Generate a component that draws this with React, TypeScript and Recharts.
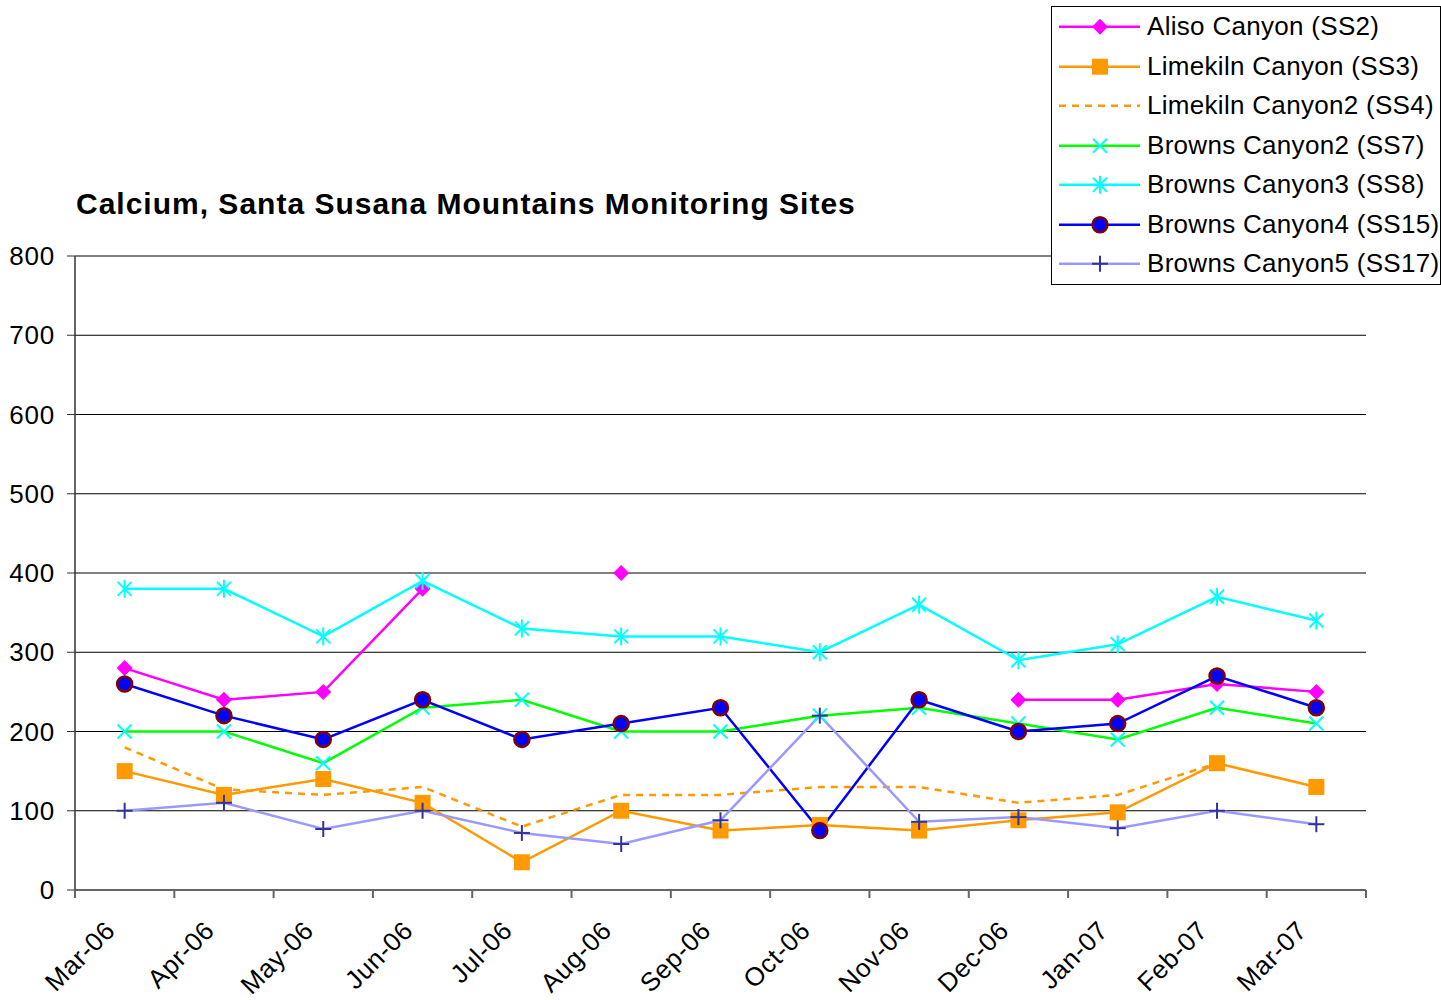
import React from 'react'
import { LineChart, Line, XAxis, YAxis, CartesianGrid, Legend } from 'recharts'

const months = ['Mar-06', 'Apr-06', 'May-06', 'Jun-06', 'Jul-06', 'Aug-06', 'Sep-06', 'Oct-06', 'Nov-06', 'Dec-06', 'Jan-07', 'Feb-07', 'Mar-07']

const aliso = [280, 240, 250, 380, null, 400, null, null, null, 240, 240, 260, 250]
const limekiln = [150, 120, 140, 110, 35, 100, 75, 82, 75, 88, 98, 160, 130]
const limekiln2 = [180, 127, 120, 130, 80, 120, 120, 130, 130, 110, 120, 160, null]
const browns2 = [200, 200, 160, 230, 240, 200, 200, 220, 230, 210, 190, 230, 210]
const browns3 = [380, 380, 320, 390, 330, 320, 320, 300, 360, 290, 310, 370, 340]
const browns4 = [260, 220, 190, 240, 190, 210, 230, 75, 240, 200, 210, 270, 230]
const browns5 = [100, 110, 77, 100, 72, 58, 88, 220, 86, 92, 78, 100, 83]

const yTicks = [0, 100, 200, 300, 400, 500, 600, 700, 800]

const data = months.map((month, i) => ({
  month,
  ss2: aliso[i],
  ss3: limekiln[i],
  ss4: limekiln2[i],
  ss7: browns2[i],
  ss8: browns3[i],
  ss15: browns4[i],
  ss17: browns5[i],
}))

const series = [
  { key: 'ss2', name: 'Aliso Canyon (SS2)', color: '#FF00FF', marker: 'diamond' },
  { key: 'ss3', name: 'Limekiln Canyon (SS3)', color: '#FF9900', marker: 'square' },
  { key: 'ss4', name: 'Limekiln Canyon2 (SS4)', color: '#FF9900', marker: 'none', dash: '7 6' },
  { key: 'ss7', name: 'Browns Canyon2 (SS7)', color: '#00FF00', marker: 'x' },
  { key: 'ss8', name: 'Browns Canyon3 (SS8)', color: '#00FFFF', marker: 'star' },
  { key: 'ss15', name: 'Browns Canyon4 (SS15)', color: '#0000FF', marker: 'circle' },
  { key: 'ss17', name: 'Browns Canyon5 (SS17)', color: '#9999FF', marker: 'plus' },
]

const FONT = '"Liberation Sans", Arial, sans-serif'
const W = 1441
const H = 1000
const M = { top: 256, right: 75, bottom: 0, left: 0 }
const Y_W = 75
const X_H = 110
const band = (W - M.right - Y_W) / months.length

function marker(type: string, cx: number, cy: number, k?: string) {
  switch (type) {
    case 'diamond':
      return <polygon key={k} points={`${cx},${cy - 8} ${cx + 8},${cy} ${cx},${cy + 8} ${cx - 8},${cy}`} fill="#FF00FF" />
    case 'square':
      return <rect key={k} x={cx - 8} y={cy - 8} width={16} height={16} fill="#FF9900" />
    case 'x':
      return (
        <g key={k} stroke="#00FFFF" strokeWidth={2}>
          <line x1={cx - 7} y1={cy - 7} x2={cx + 7} y2={cy + 7} />
          <line x1={cx - 7} y1={cy + 7} x2={cx + 7} y2={cy - 7} />
        </g>
      )
    case 'star':
      return (
        <g key={k} stroke="#00FFFF" strokeWidth={2}>
          <line x1={cx - 7} y1={cy - 7} x2={cx + 7} y2={cy + 7} />
          <line x1={cx - 7} y1={cy + 7} x2={cx + 7} y2={cy - 7} />
          <line x1={cx} y1={cy - 9} x2={cx} y2={cy + 9} />
        </g>
      )
    case 'circle':
      return <circle key={k} cx={cx} cy={cy} r={7.5} fill="#0000FF" stroke="#800000" strokeWidth={2.5} />
    case 'plus':
      return (
        <g key={k} stroke="#333399" strokeWidth={2}>
          <line x1={cx - 8} y1={cy} x2={cx + 8} y2={cy} />
          <line x1={cx} y1={cy - 8} x2={cx} y2={cy + 8} />
        </g>
      )
    default:
      return <g key={k} />
  }
}

const makeDot = (type: string, id: string) => (props: any) => {
  const { cx, cy, index } = props
  const k = `${id}-${index}`
  if (cx == null || cy == null || props.value == null) return <g key={k} />
  return marker(type, cx, cy, k)
}

function MonthTick(props: any) {
  const { x, y, payload, index } = props
  const left = x - band / 2
  const tx = x - 8
  const ty = y + 42
  return (
    <g>
      <line x1={left} y1={y} x2={left} y2={y + 8} stroke="#666" strokeWidth={2} />
      {index === months.length - 1 && (
        <line x1={x + band / 2} y1={y} x2={x + band / 2} y2={y + 8} stroke="#666" strokeWidth={2} />
      )}
      <text
        x={tx}
        y={ty}
        textAnchor="end"
        transform={`rotate(-45, ${tx}, ${ty})`}
        fontSize={26}
        letterSpacing={0.6}
        fontFamily={FONT}
        fill="#000"
      >
        {payload.value}
      </text>
    </g>
  )
}

function LegendBox() {
  return (
    <div style={{ border: '1px solid #000', background: '#fff', width: 388, fontFamily: FONT }}>
      {series.map((s) => (
        <div key={s.key} style={{ display: 'flex', alignItems: 'center', height: 39.5 }}>
          <svg width={95} height={39.5} style={{ flex: 'none' }}>
            <line x1={7} y1={19.75} x2={88} y2={19.75} stroke={s.color} strokeWidth={2.5} strokeDasharray={s.dash} />
            {marker(s.marker, 48, 19.75)}
          </svg>
          <span style={{ fontSize: 26, letterSpacing: 0.3, color: '#000', whiteSpace: 'nowrap' }}>{s.name}</span>
        </div>
      ))}
    </div>
  )
}

export default function App() {
  return (
    <div style={{ position: 'absolute', left: 0, top: 0, width: W, height: H, background: '#fff' }}>
      <div
        style={{
          position: 'absolute',
          left: 76,
          top: 189,
          fontFamily: FONT,
          fontSize: 30,
          letterSpacing: 1,
          lineHeight: '30px',
          fontWeight: 'bold',
          color: '#000',
          whiteSpace: 'nowrap',
          zIndex: 1,
        }}
      >
        Calcium, Santa Susana Mountains Monitoring Sites
      </div>
      <LineChart width={W} height={H} data={data} margin={M}>
        <CartesianGrid horizontal vertical={false} stroke="#000" strokeWidth={1} />
        <XAxis
          dataKey="month"
          scale="band"
          interval={0}
          height={X_H}
          tickSize={0}
          tickMargin={0}
          tick={<MonthTick />}
          axisLine={{ stroke: '#666', strokeWidth: 2 }}
        />
        <XAxis xAxisId="top" dataKey="month" orientation="top" scale="band" height={0} tick={false} tickLine={false} axisLine={{ stroke: '#888', strokeWidth: 2 }} />
        <YAxis
          domain={[0, 800]}
          ticks={yTicks}
          width={Y_W}
          tickSize={8}
          tickMargin={12}
          tick={{ fontSize: 26, fontFamily: FONT, fill: '#000', letterSpacing: 0.8 }}
          tickLine={{ stroke: '#333' }}
          axisLine={{ stroke: '#333', strokeWidth: 1.5 }}
        />
        <YAxis yAxisId="right" orientation="right" width={0} domain={[0, 800]} tick={false} tickLine={false} axisLine={{ stroke: '#888', strokeWidth: 2 }} />
        <Legend
          layout="vertical"
          align="center"
          verticalAlign="middle"
          content={<LegendBox />}
          wrapperStyle={{ left: 1051, top: 6, width: 390, height: 280 }}
        />
        {series.map((s) => (
          <Line
            key={s.key}
            dataKey={s.key}
            name={s.name}
            stroke={s.color}
            strokeWidth={2.5}
            strokeDasharray={s.dash}
            dot={makeDot(s.marker, s.key)}
            activeDot={false}
            connectNulls={false}
            isAnimationActive={false}
            type="linear"
          />
        ))}
      </LineChart>
    </div>
  )
}
